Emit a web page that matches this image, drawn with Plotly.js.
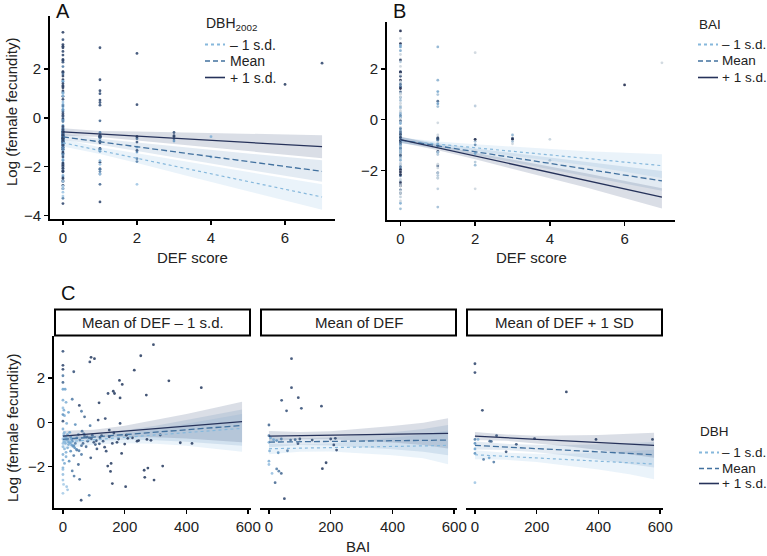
<!DOCTYPE html>
<html><head><meta charset="utf-8">
<script src="https://cdn.plot.ly/plotly-3.0.1.min.js"></script>
<style>html,body{margin:0;padding:0;background:#fff}#chart{width:767px;height:556px}</style>
</head><body><div id="chart"></div>
<script>
// ---------- observed trees (DEF score, log female fecundity, BAI, relative DBH) ----------
// DEF score = 0
const fecDef0 = [3.50,3.00,2.93,2.87,2.72,2.57,2.39,2.35,2.28,1.89,1.87,1.71,1.56,1.49,1.49,1.40,1.30,1.30,1.23,1.10,1.04,0.88,0.76,0.90,0.55,0.45,0.50,0.65,0.30,0.25,0.17,0.10,0.05,-0.05,-0.05,-0.10,-0.15,-0.30,-0.45,-0.55,-0.65,-0.55,-0.62,-0.58,-0.70,-0.65,-0.75,-0.72,-0.85,-0.57,-0.77,-0.81,-0.92,-0.95,-0.75,-0.85,-0.95,-0.80,-0.90,-0.85,-0.95,-0.80,-0.95,-0.85,-0.90,-0.85,-0.95,-0.98,-1.10,-1.20,-1.15,-1.30,-1.25,-1.10,-1.20,-1.30,-1.45,-1.55,-1.50,-1.45,-1.60,-1.70,-1.85,-1.75,-1.90,-1.97,-1.85,-1.97,-2.05,-2.12,-2.19,-2.21,-2.16,-2.06,-2.35,-2.42,-2.48,-2.57,-2.60,-2.60,-2.76,-2.90,-2.90,-3.04,-3.29,-3.51,-2.80,-3.20,-0.60,-0.70,-1.00,-0.75,-1.05,-0.70,-1.05,-0.70,-1.00,-0.60,-1.35,-0.95,-0.45,1.00,1.80,3.20,2.10,0.35,-0.50,-0.62,-0.68,-0.78,-0.88,-0.92,-1.02,-1.08,-1.15,-1.22,-1.28,-0.40,-0.52,-0.66,-0.74,-0.83,-0.97,-1.12,-0.35,-0.48,-0.90,-1.40,-0.58,-0.70,-0.82];
const baiDef0 = [293,252,91,102,87,0,0,231,35,183,343,192,448,0,7,163,167,146,270,185,30,117,53,10,3,18,60,0,5,70,137,114,0,12,185,40,88,0,5,15,25,50,70,95,120,150,180,210,240,315,272,285,380,418,0,3,8,12,20,30,40,55,65,80,100,130,160,200,0,5,15,25,45,75,110,140,0,10,35,60,90,0,5,20,50,145,156,323,0,0,30,154,263,275,0,36,265,54,295,0,160,203,12,15,85,59,2,0,2,8,18,28,35,45,60,85,105,125,10,0,22,0,0,0,0,0,3,6,10,14,18,24,28,33,38,44,52,62,68,78,92,108,118,135,150,165,175,190,205,225,245];
const dbhDef0 = [0.9,0.9,0.9,0.9,0.85,0.85,0.85,0.9,0.8,0.9,0.9,0.9,0.9,0.4,0.4,0.9,0.9,0.85,0.9,0.9,0.6,0.9,0.85,0.3,0.3,0.4,0.6,0.2,0.3,0.7,0.85,0.85,0.8,0.3,0.85,0.5,0.6,0.3,0.2,0.4,0.5,0.6,0.7,0.7,0.8,0.85,0.9,0.9,0.9,0.9,0.9,0.9,0.9,0.9,0.2,0.2,0.3,0.3,0.4,0.5,0.6,0.6,0.7,0.7,0.8,0.8,0.85,0.9,0.2,0.25,0.3,0.5,0.6,0.7,0.8,0.85,0.3,0.3,0.6,0.6,0.8,0.3,0.35,0.5,0.7,0.9,0.9,0.9,0.3,0.2,0.6,0.9,0.9,0.9,0.2,0.6,0.9,0.7,0.9,0.15,0.9,0.9,0.15,0.15,0.6,0.85,0.1,0.1,0.2,0.25,0.35,0.45,0.5,0.55,0.65,0.7,0.75,0.8,0.3,0.2,0.4,0.3,0.7,0.8,0.6,0.5,0.25,0.25,0.3,0.3,0.35,0.4,0.45,0.5,0.5,0.55,0.6,0.65,0.65,0.7,0.75,0.8,0.8,0.85,0.85,0.85,0.9,0.9,0.9,0.9,0.9];
// DEF score = 1
const fecDef1 = [2.87,1.56,1.11,0.99,0.73,0.63,0.52,-0.12,-0.60,-0.70,-0.78,-0.82,-0.75,-0.80,-0.78,-0.75,-0.80,-0.75,-0.72,-0.90,-0.96,-1.02,-1.25,-1.29,-1.37,-1.28,-1.82,-1.75,-1.90,-2.09,-2.10,-2.20,-2.30,-2.30,-2.72,-3.44];
const baiDef1 = [73,73,95,41,170,105,57,0,0,5,15,25,40,70,85,100,140,200,215,0,94,210,219,2,30,60,185,0,0,173,25,32,40,10,20,50];
const dbhDef1 = [0.85,0.85,0.85,0.8,0.85,0.8,0.8,0.7,0.6,0.4,0.4,0.5,0.6,0.7,0.7,0.8,0.8,0.85,0.85,0.3,0.8,0.85,0.85,0.3,0.5,0.6,0.9,0.3,0.2,0.9,0.6,0.6,0.7,0.2,0.7,0.85];
// DEF score >= 2
const defHigh = [2,2,2,2,2,2,2,2,2,2,2,2,3,3,3,3,3,4,4,6,7];
const fecDefHigh = [2.64,0.54,-0.77,-0.85,-0.99,-1.20,-1.40,-1.67,-1.79,-2.72,-0.77,-1.33,-0.60,-0.73,-0.77,-0.86,-0.95,-0.77,-1.60,1.37,2.24];
const baiDefHigh = [0,24,0,48,134,0,0,28,61,0,575,101,70,193,392,53,0,10,46,296,0];
const dbhDefHigh = [0.85,0.85,0.6,0.7,0.8,0.4,0.5,0.6,0.6,0.15,0.9,0.8,0.8,0.85,0.9,0.7,0.5,0.3,0.4,0.9,0.85];

// ---------- fitted model lines ----------
const defEnds = [0, 7];
const defRibX = [0, 1, 2, 3.5, 5, 7];
// Panel A: by DBH2002
const aPlus = [-0.57, -1.18], aMean = [-0.78, -2.19], aMinus = [-1.02, -3.24];
const aPlusUp = [-0.42,-0.54,-0.56,-0.60,-0.66,-0.71], aPlusLo = [-0.72,-0.78,-0.92,-1.15,-1.36,-1.65];
const aMeanUp = [-0.65,-0.86,-1.01,-1.24,-1.46,-1.74], aMeanLo = [-0.91,-1.10,-1.35,-1.74,-2.12,-2.62];
const aMinusUp = [-0.87,-1.20,-1.45,-1.83,-2.21,-2.72], aMinusLo = [-1.17,-1.48,-1.85,-2.43,-3.01,-3.76];
// Panel B: by BAI
const bPlus = [-0.78, -3.05], bMean = [-0.80, -2.41], bMinus = [-0.82, -1.81];
const bPlusUp = [-0.66,-1.00,-1.30,-1.71,-2.12,-2.70], bPlusLo = [-0.90,-1.20,-1.56,-2.11,-2.68,-3.50];
const bMeanUp = [-0.68,-0.93,-1.13,-1.40,-1.67,-2.02], bMeanLo = [-0.92,-1.13,-1.39,-1.80,-2.23,-2.80];
const bMinusUp = [-0.70,-0.86,-0.97,-1.11,-1.24,-1.36], bMinusLo = [-0.94,-1.06,-1.23,-1.51,-1.80,-2.30];
// Panel C: by DBH within DEF levels
const baiEnds = [0, 580];
const baiRibX = [0, 100, 200, 300, 400, 500, 580];
const c1Plus = [-0.62, 0.03], c1Mean = [-0.77, -0.14], c1Minus = [-0.89, -0.27];
const c1PlusUp = [-0.38,-0.33,-0.15,0.10,0.38,0.68,0.93], c1PlusLo = [-0.86,-0.70,-0.66,-0.67,-0.73,-0.82,-0.90];
const c1MeanUp = [-0.58,-0.52,-0.36,-0.15,0.10,0.36,0.58], c1MeanLo = [-0.98,-0.84,-0.79,-0.81,-0.87,-0.96,-1.05];
const c1MinusUp = [-0.66,-0.64,-0.50,-0.30,-0.06,0.18,0.38], c1MinusLo = [-1.20,-1.00,-0.94,-0.97,-1.06,-1.20,-1.32];
const c2Plus = [-0.62, -0.50], c2Mean = [-0.89, -0.80], c2Minus = [-1.19, -1.04];
const c2PlusUp = [-0.39,-0.44,-0.40,-0.30,-0.17,-0.02,0.18], c2PlusLo = [-0.85,-0.76,-0.76,-0.82,-0.91,-1.02,-1.18];
const c2MeanUp = [-0.66,-0.72,-0.68,-0.57,-0.45,-0.30,-0.12], c2MeanLo = [-1.12,-1.02,-1.04,-1.11,-1.21,-1.32,-1.48];
const c2MinusUp = [-0.96,-1.00,-0.95,-0.84,-0.70,-0.55,-0.37], c2MinusLo = [-1.44,-1.32,-1.31,-1.38,-1.48,-1.62,-1.89];
const c3Plus = [-0.62, -1.04], c3Mean = [-1.04, -1.46], c3Minus = [-1.46, -1.88];
const c3PlusUp = [-0.44,-0.55,-0.60,-0.60,-0.57,-0.52,-0.47], c3PlusLo = [-0.80,-0.83,-0.94,-1.08,-1.25,-1.44,-1.60];
const c3MeanUp = [-0.86,-0.97,-1.01,-1.02,-0.99,-0.94,-0.89], c3MeanLo = [-1.22,-1.25,-1.35,-1.50,-1.67,-1.86,-2.03];
const c3MinusUp = [-1.26,-1.37,-1.41,-1.42,-1.38,-1.30,-1.23], c3MinusLo = [-1.66,-1.69,-1.79,-1.94,-2.12,-2.34,-2.57];

const legendLabels = ['\u2013 1 s.d.', 'Mean', '+ 1 s.d.'];
const stripLabels = ['Mean of DEF \u2013 1 s.d.', 'Mean of DEF', 'Mean of DEF + 1 SD'];

// ---------- styling ----------
const FONT = 'Liberation Sans, Arial, Helvetica, sans-serif';
const W = 767, H = 556;
const px = v => v / W, py = v => 1 - v / H;
const colMinus = '#86b8dc', colMean = '#42719f', colPlus = '#26325a';
const fillMinus = 'rgba(150,195,232,0.2)', fillMean = 'rgba(90,135,185,0.17)', fillPlus = 'rgba(70,88,130,0.2)';
const dbhScale = [[0,'#bcdaf0'],[0.45,'#6a9fcb'],[1,'#222e50']];
const baiScale = [[0,'#cdd6de'],[0.4,'#75a6cd'],[1,'#222e50']];

const traces = [];
function ribbon(xs, up, lo, fill, xa, ya) {
  traces.push({x: xs.concat(xs.slice().reverse()), y: up.concat(lo.slice().reverse()),
    type: 'scatter', mode: 'lines', fill: 'toself', fillcolor: fill, line: {width: 0},
    hoverinfo: 'skip', showlegend: false, xaxis: xa, yaxis: ya});
}
function fitLine(xs, ys, color, dash, xa, ya) {
  traces.push({x: xs, y: ys, type: 'scatter', mode: 'lines',
    line: {color: color, width: dash === 'dot' ? 1.2 : 1.3, dash: dash === 'dash' ? '6px,3px' : dash},
    showlegend: false, xaxis: xa, yaxis: ya});
}
function pts(xs, ys, cs, scale, cmax, xa, ya) {
  traces.push({x: xs, y: ys, type: 'scatter', mode: 'markers',
    marker: {size: 2.8, color: cs, colorscale: scale, cmin: 0, cmax: cmax, opacity: 0.9, line: {width: 0}},
    showlegend: false, xaxis: xa, yaxis: ya});
}

// all-tree arrays for panels A and B
const defAll = fecDef0.map(() => 0).concat(fecDef1.map(() => 1), defHigh);
const fecAll = fecDef0.concat(fecDef1, fecDefHigh);
const baiAll = baiDef0.concat(baiDef1, baiDefHigh);
const dbhAll = dbhDef0.concat(dbhDef1, dbhDefHigh);

// Panel A
ribbon(defRibX, aMinusUp, aMinusLo, fillMinus, 'x', 'y');
ribbon(defRibX, aMeanUp, aMeanLo, fillMean, 'x', 'y');
ribbon(defRibX, aPlusUp, aPlusLo, fillPlus, 'x', 'y');
pts(defAll, fecAll, dbhAll, dbhScale, 1, 'x', 'y');
fitLine(defEnds, aMinus, colMinus, 'dot', 'x', 'y');
fitLine(defEnds, aMean, colMean, 'dash', 'x', 'y');
fitLine(defEnds, aPlus, colPlus, 'solid', 'x', 'y');
// Panel B
ribbon(defRibX, bMinusUp, bMinusLo, fillMinus, 'x2', 'y2');
ribbon(defRibX, bMeanUp, bMeanLo, fillMean, 'x2', 'y2');
ribbon(defRibX, bPlusUp, bPlusLo, fillPlus, 'x2', 'y2');
pts(defAll, fecAll, baiAll, baiScale, 250, 'x2', 'y2');
fitLine(defEnds, bMinus, colMinus, 'dot', 'x2', 'y2');
fitLine(defEnds, bMean, colMean, 'dash', 'x2', 'y2');
fitLine(defEnds, bPlus, colPlus, 'solid', 'x2', 'y2');
// Panel C
const cPanels = [
  {xa:'x3', minus:[c1Minus,c1MinusUp,c1MinusLo], mean:[c1Mean,c1MeanUp,c1MeanLo], plus:[c1Plus,c1PlusUp,c1PlusLo], b:baiDef0, f:fecDef0, d:dbhDef0},
  {xa:'x4', minus:[c2Minus,c2MinusUp,c2MinusLo], mean:[c2Mean,c2MeanUp,c2MeanLo], plus:[c2Plus,c2PlusUp,c2PlusLo], b:baiDef1, f:fecDef1, d:dbhDef1},
  {xa:'x5', minus:[c3Minus,c3MinusUp,c3MinusLo], mean:[c3Mean,c3MeanUp,c3MeanLo], plus:[c3Plus,c3PlusUp,c3PlusLo], b:baiDefHigh, f:fecDefHigh, d:dbhDefHigh}
];
cPanels.forEach(p => {
  ribbon(baiRibX, p.minus[1], p.minus[2], fillMinus, p.xa, 'y3');
  ribbon(baiRibX, p.mean[1], p.mean[2], fillMean, p.xa, 'y3');
  ribbon(baiRibX, p.plus[1], p.plus[2], fillPlus, p.xa, 'y3');
  pts(p.b, p.f, p.d, dbhScale, 1, p.xa, 'y3');
  fitLine(baiEnds, p.minus[0], colMinus, 'dot', p.xa, 'y3');
  fitLine(baiEnds, p.mean[0], colMean, 'dash', p.xa, 'y3');
  fitLine(baiEnds, p.plus[0], colPlus, 'solid', p.xa, 'y3');
});

const axBase = {showline: true, linecolor: '#000', linewidth: 2, ticks: 'outside', ticklen: 4,
  tickwidth: 1.5, tickcolor: '#000', tickfont: {family: FONT, size: 15, color: '#222'},
  showgrid: false, zeroline: false, fixedrange: true};
const layout = {
  width: W, height: H, margin: {l: 0, r: 0, t: 0, b: 0},
  paper_bgcolor: '#fff', plot_bgcolor: 'rgba(0,0,0,0)', showlegend: false,
  font: {family: FONT, color: '#222'},
  xaxis: Object.assign({}, axBase, {domain: [px(50), px(335)], range: [-0.35, 7.35], tickvals: [0,2,4,6], anchor: 'y'}),
  yaxis: Object.assign({}, axBase, {domain: [py(219), py(16)], range: [-4.14, 4.17], tickvals: [-4,-2,0,2], anchor: 'x'}),
  xaxis2: Object.assign({}, axBase, {domain: [px(387), px(675)], range: [-0.36, 7.35], tickvals: [0,2,4,6], anchor: 'y2'}),
  yaxis2: Object.assign({}, axBase, {domain: [py(220), py(22)], range: [-3.95, 3.85], tickvals: [-2,0,2], anchor: 'x2'}),
  xaxis3: Object.assign({}, axBase, {domain: [px(54), px(251)], range: [-29, 609], tickvals: [0,200,400,600], anchor: 'y3'}),
  xaxis4: Object.assign({}, axBase, {domain: [px(260), px(457)], range: [-29, 609], tickvals: [0,200,400,600], anchor: 'y3'}),
  xaxis5: Object.assign({}, axBase, {domain: [px(466), px(663)], range: [-29, 609], tickvals: [0,200,400,600], anchor: 'y3'}),
  yaxis3: Object.assign({}, axBase, {domain: [py(508), py(336)], range: [-3.86, 3.89], tickvals: [-2,0,2], anchor: 'x3'}),
  shapes: [], annotations: []
};

function ann(text, x, y, opts) {
  layout.annotations.push(Object.assign({text: text, xref: 'paper', yref: 'paper', x: px(x), y: py(y),
    showarrow: false, xanchor: 'left', yanchor: 'middle', font: {family: FONT, size: 14, color: '#222'}}, opts || {}));
}
// panel letters
ann('A', 54, 11.5, {font: {family: FONT, size: 20, color: '#111'}});
ann('B', 391, 11.5, {font: {family: FONT, size: 20, color: '#111'}});
ann('C', 59, 292.5, {font: {family: FONT, size: 20, color: '#111'}});
// axis titles
ann('DEF score', 192.5, 257.5, {xanchor: 'center', font: {family: FONT, size: 15, color: '#222'}});
ann('DEF score', 531, 257.5, {xanchor: 'center', font: {family: FONT, size: 15, color: '#222'}});
ann('BAI', 358, 546.5, {xanchor: 'center', font: {family: FONT, size: 15, color: '#222'}});
ann('Log (female fecundity)', 12, 112, {xanchor: 'center', textangle: -90, font: {family: FONT, size: 15, color: '#222'}});
ann('Log (female fecundity)', 12, 428, {xanchor: 'center', textangle: -90, font: {family: FONT, size: 15, color: '#222'}});

// strips
const stripX = [[54, 251], [260, 457], [466, 663]];
stripX.forEach((s, i) => {
  layout.shapes.push({type: 'rect', xref: 'paper', yref: 'paper', x0: px(s[0]+1), x1: px(s[1]-1), y0: py(335.5), y1: py(309.5),
    line: {color: '#000', width: 2}, fillcolor: '#fff'});
  ann(stripLabels[i], (s[0]+s[1])/2, 322.5, {xanchor: 'center', font: {family: FONT, size: 15, color: '#222'}});
});

// legends
const lgStyles = [[colMinus, 'dot'], [colMean, '5px,3px'], [colPlus, 'solid']];
function legendBlock(title, x0, titleY, rowYs, sampleW, textX, fs) {
  ann(title, x0 - 1, titleY, {font: {family: FONT, size: fs, color: '#222'}});
  rowYs.forEach((ry, i) => {
    layout.shapes.push({type: 'line', xref: 'paper', yref: 'paper', x0: px(x0), x1: px(x0 + sampleW), y0: py(ry), y1: py(ry),
      line: {color: lgStyles[i][0], width: i === 0 ? 2 : 1.6, dash: lgStyles[i][1]}});
    ann(legendLabels[i], textX, ry, {font: {family: FONT, size: fs, color: '#222'}});
  });
}
legendBlock('DBH<sub>2002</sub>', 205, 24.5, [44.5, 61, 77.5], 20, 228, 14);
legendBlock('BAI', 698, 24.5, [44.5, 61, 77.5], 20, 720, 13.5);
legendBlock('DBH', 699, 431, [452.5, 468.5, 483.5], 20, 720, 13.5);

Plotly.newPlot('chart', traces, layout, {displayModeBar: false, staticPlot: true});
</script>
</body></html>
